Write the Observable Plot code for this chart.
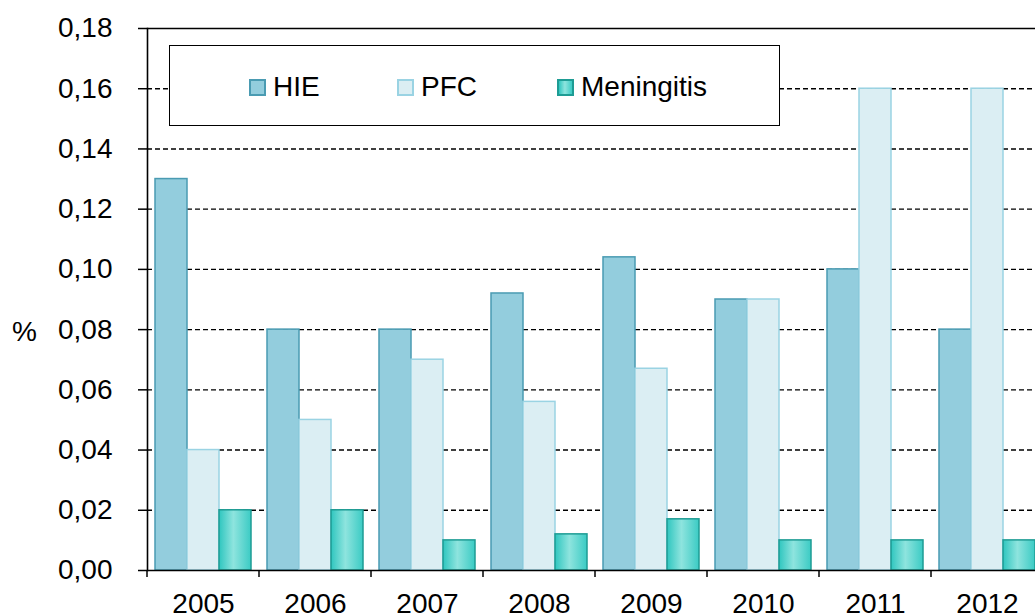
<!DOCTYPE html>
<html>
<head>
<meta charset="utf-8">
<script src="https://cdn.jsdelivr.net/npm/d3@7"></script>
<script src="https://cdn.jsdelivr.net/npm/@observablehq/plot@0.6"></script>
<style>
  html, body { margin: 0; padding: 0; background: #fff; }
  body { width: 1035px; height: 616px; overflow: hidden; font-family: "Liberation Sans", Arial, sans-serif; }
  #wrap { position: relative; width: 1035px; height: 616px; overflow: hidden; }
  #chart { position: absolute; left: 0; top: 0; width: 1043px; height: 616px; }
  #chart svg { max-width: none !important; width: 1043px; height: 616px; }
  #legend { position: absolute; left: 169px; top: 45px; width: 611px; height: 81px; box-sizing: border-box;
            border: 1.6px solid #000; background: #fff; }
  .item { position: absolute; top: 21px; height: 40px; display: flex; align-items: center; font-size: 28px; color: #000; }
  .sw { width: 13px; height: 13px; margin-right: 7px; border: 2px solid; }
  #pct { position: absolute; left: 12px; top: 313px; font-size: 28px; line-height: 38px; }
</style>
</head>
<body>
<div id="wrap">
  <div id="chart"></div>
  <div id="legend"></div>
  <div id="pct">%</div>
</div>
<script>
// ---- data ----
const years = ["2005", "2006", "2007", "2008", "2009", "2010", "2011", "2012"];
const hie = [0.130, 0.080, 0.080, 0.092, 0.104, 0.090, 0.100, 0.080];
const pfc = [0.040, 0.050, 0.070, 0.056, 0.067, 0.090, 0.160, 0.160];
const meningitis = [0.020, 0.020, 0.010, 0.012, 0.017, 0.010, 0.010, 0.010];
const seriesNames = ["HIE", "PFC", "Meningitis"];
const yTicks = [0, 0.02, 0.04, 0.06, 0.08, 0.10, 0.12, 0.14, 0.16, 0.18];

// ---- styles ----
const seriesValues = [hie, pfc, meningitis];
const fills = ["#93CDDD", "#DBEEF3", "url(#menGrad)"];
const strokes = ["#4A9BB2", "#9AD3E3", "#1E9C94"];
const legendLeft = [79, 227, 387];
const pad = 8, barW = 32;

const fmt = d => d3.format(".2f")(d).replace(".", ",");

const boundaryTicks = Plot.tickX(years, {
  x: d => d,
  render: (index, scales, values, dimensions) => {
    const x = scales.x;
    const bw = x.bandwidth ? x.bandwidth() : 0;
    const y0 = dimensions.height - dimensions.marginBottom;
    const g = d3.create("svg:g");
    const xs = years.map(d => x(d)).concat([x(years[years.length - 1]) + bw]);
    for (const xv of xs) {
      g.append("line").attr("x1", xv).attr("x2", xv).attr("y1", y0).attr("y2", y0 + 7)
        .attr("stroke", "#000").attr("stroke-width", 1.5);
    }
    return g.node();
  }
});

const bars = seriesValues.map((vals, i) => Plot.barY(years, {
  x: d => d,
  y: (d, j) => vals[j],
  fill: fills[i],
  stroke: strokes[i],
  strokeWidth: 1.5,
  insetLeft: pad + i * barW,
  insetRight: pad + (2 - i) * barW
}));

const chart = Plot.plot({
  width: 1043,
  height: 616,
  marginLeft: 147,
  marginRight: 0,
  marginTop: 28,
  marginBottom: 46,
  style: { fontFamily: "Liberation Sans, Arial, sans-serif", fontSize: "28px", color: "#000", background: "#fff", maxWidth: "none" },
  x: { domain: years, paddingInner: 0, paddingOuter: 0, axis: null },
  y: { domain: [0, 0.18], axis: null },
  marks: [
    Plot.ruleY(yTicks.filter(d => d > 0 && d < 0.18), { stroke: "#000", strokeWidth: 1.4, strokeDasharray: "5,3" }),
    Plot.ruleY([0.18], { stroke: "#000", strokeWidth: 1.6 }),
    ...bars,
    Plot.axisY({ ticks: yTicks, tickFormat: fmt, tickSize: 9, tickPadding: 26, fontSize: 28, strokeWidth: 1.5, label: null }),
    Plot.axisX({ tickSize: 0, tickPadding: 23, fontSize: 28, label: null }),
    boundaryTicks,
    Plot.ruleY([0], { stroke: "#000", strokeWidth: 1.6 }),
    Plot.frame({ anchor: "left", stroke: "#000", strokeWidth: 1.6 })
  ]
});

// gradient for meningitis bars
const svg = d3.select(chart.tagName.toLowerCase() === "svg" ? chart : chart.querySelector("svg"));
const defs = svg.insert("defs", ":first-child");
const grad = defs.append("linearGradient").attr("id", "menGrad").attr("x1", "0").attr("x2", "1").attr("y1", "0").attr("y2", "0");
grad.append("stop").attr("offset", "0").attr("stop-color", "#2FC6BF");
grad.append("stop").attr("offset", "0.45").attr("stop-color", "#8EE4DE");
grad.append("stop").attr("offset", "1").attr("stop-color", "#3BCBC4");

document.getElementById("chart").appendChild(chart);

// legend
const legend = d3.select("#legend");
seriesNames.forEach((name, i) => {
  const it = legend.append("div").attr("class", "item").style("left", legendLeft[i] + "px");
  const sw = it.append("div").attr("class", "sw").style("border-color", strokes[i]);
  if (i === 2) sw.style("background", "linear-gradient(to right, #2FC6BF, #8EE4DE 45%, #3BCBC4)");
  else sw.style("background", fills[i]);
  it.append("span").text(name);
});
</script>
</body>
</html>
